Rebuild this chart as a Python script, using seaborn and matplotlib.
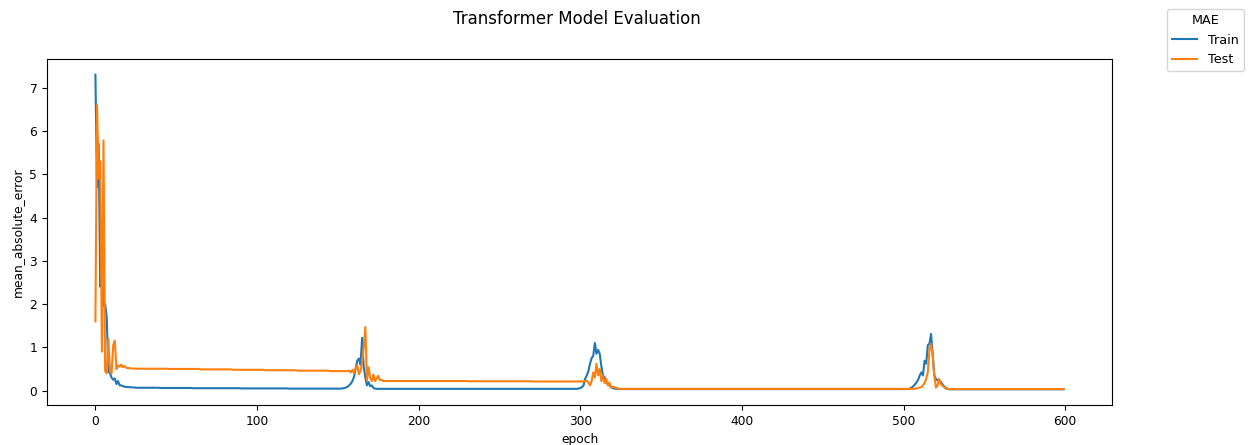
import numpy as np
import pandas as pd
import matplotlib
matplotlib.use("Agg")
import matplotlib.pyplot as plt
import seaborn as sns

# Training history of the transformer: mean absolute error per epoch
train_mae = (
    [7.30, 4.70, 5.70, 2.40, 3.10, 1.95, 2.00, 1.70, 0.45, 0.40,
     0.30, 0.25, 0.28, 0.15, 0.22, 0.12, 0.12, 0.10, 0.09, 0.085,
     0.08, 0.08, 0.075, 0.075, 0.07]
    + [0.065] * 15
    + [0.06] * 20
    + [0.055] * 30
    + [0.05] * 30
    + [0.045] * 33
    + [0.05, 0.06, 0.07, 0.09, 0.12, 0.16, 0.22, 0.32, 0.50, 0.69,
       0.74, 0.60, 1.22, 0.55, 0.30, 0.12, 0.20, 0.10, 0.12, 0.06, 0.045]
    + [0.04] * 125
    + [0.05, 0.06, 0.08, 0.12, 0.27, 0.35, 0.45, 0.62, 0.75, 0.80,
       1.10, 0.85, 0.94, 0.85, 0.57, 0.35, 0.31, 0.19, 0.15, 0.12,
       0.08, 0.06, 0.05, 0.04, 0.04]
    + [0.035] * 180
    + [0.05, 0.07, 0.10, 0.14, 0.19, 0.25, 0.35, 0.42, 0.35, 0.69,
       0.62, 1.05, 1.08, 1.31, 0.85, 0.35, 0.27, 0.24, 0.23, 0.20,
       0.15, 0.10, 0.06, 0.04]
    + [0.03] * 72
)

test_mae = (
    [1.60, 6.60, 4.90, 5.30, 0.90, 5.78, 0.45, 0.40, 1.20, 0.45,
     0.40, 1.05, 1.15, 0.50, 0.58, 0.55, 0.60, 0.54, 0.57, 0.53,
     0.52, 0.52, 0.51, 0.51, 0.51]
    + [0.505] * 20
    + [0.50] * 20
    + [0.49] * 20
    + [0.48] * 20
    + [0.47] * 20
    + [0.46] * 20
    + [0.45] * 12
    + [0.46, 0.42, 0.48, 0.40, 0.52, 0.58, 0.38, 0.45, 0.65, 1.00,
       1.47, 0.23, 0.54, 0.30, 0.22, 0.37, 0.22, 0.28, 0.34, 0.24,
       0.25, 0.22]
    + [0.22] * 52
    + [0.215] * 40
    + [0.21] * 32
    + [0.22, 0.23, 0.18, 0.12, 0.22, 0.42, 0.30, 0.62, 0.35, 0.50,
       0.22, 0.35, 0.17, 0.27, 0.12, 0.19, 0.07, 0.09, 0.08, 0.06, 0.05]
    + [0.04] * 184
    + [0.05, 0.06, 0.07, 0.08, 0.12, 0.18, 0.27, 0.42, 0.93, 1.08,
       0.81, 0.35, 0.07, 0.12, 0.27, 0.15, 0.12, 0.08, 0.05, 0.04]
    + [0.035] * 72
)

series_names = ["Train", "Test"]
epochs = np.arange(len(train_mae))

df = pd.DataFrame({
    "epoch": np.concatenate([epochs, epochs]),
    "mean_absolute_error": np.concatenate([train_mae, test_mae]),
    "MAE": [series_names[0]] * len(train_mae) + [series_names[1]] * len(test_mae),
})

FS = 8.8
plt.rcParams.update({
    "font.size": FS,
    "axes.labelsize": FS,
    "xtick.labelsize": FS,
    "ytick.labelsize": FS,
    "legend.fontsize": 9.2,
    "legend.title_fontsize": 9.2,
})

W, H, DPI = 1253, 445, 100
fig = plt.figure(figsize=(W / DPI, H / DPI), dpi=DPI)
ax = fig.add_axes([47 / W, 1 - 405 / H, (1112 - 47) / W, (405 - 59) / H])

sns.lineplot(data=df, x="epoch", y="mean_absolute_error", hue="MAE",
             palette=["#1f77b4", "#ff7f0e"], linewidth=1.5, ax=ax)

handles, labels = ax.get_legend_handles_labels()
ax.get_legend().remove()
fig.legend(handles, labels, title="MAE", loc="upper right",
           bbox_to_anchor=(1250 / W, 1 - 3 / H))

fig.text(577 / W, 1 - 19 / H, "Transformer Model Evaluation",
         ha="center", va="center", fontsize=12)

fig.savefig("out.png", dpi=DPI)
